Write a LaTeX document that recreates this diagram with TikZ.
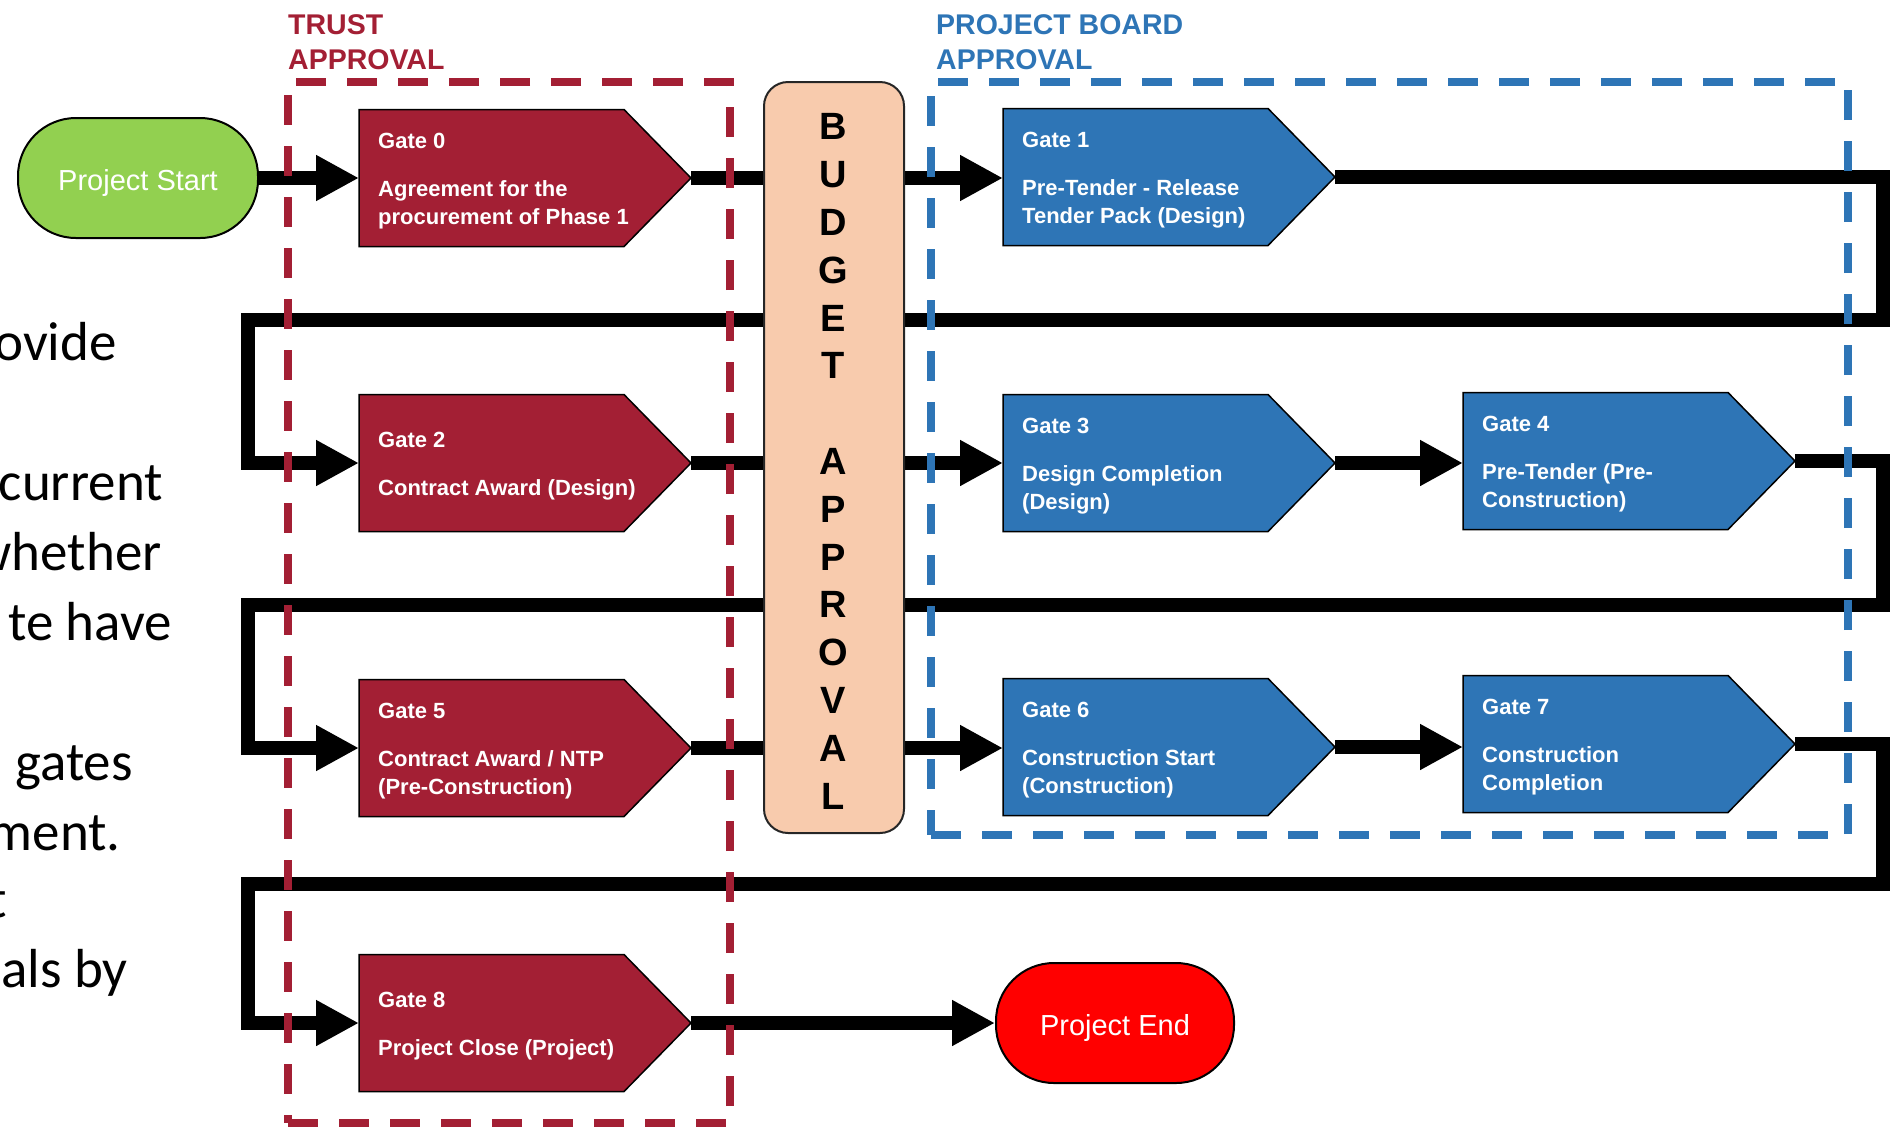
\documentclass[tikz,border=0pt]{standalone}
\usepackage{fontspec}
\setmainfont{Liberation Sans}
\newfontfamily\arialfont{Liberation Sans}
\newfontfamily\slidefont{Carlito}
\usetikzlibrary{arrows.meta,calc,backgrounds}
\definecolor{trustred}{HTML}{A31F34}
\definecolor{boardblue}{HTML}{2E75B6}
\definecolor{startgreen}{HTML}{92D050}
\definecolor{endred}{HTML}{FF0000}
\definecolor{budgetfill}{HTML}{F8CBAD}

% #1 name, #2 left x, #3 centre y, #4 colour, #5 label, #6 description
\newcommand\gatebox[6]{%
  \node[gatebody] (#1) at (#2+132.5,#3) {};
  \coordinate (#1tip) at ($(#1.east)+(67,0)$);
  \path[gateshape, fill=#4] (#1.north west) -- (#1.north east) -- (#1tip)
        -- (#1.south east) -- (#1.south west) -- cycle;
  \node[gatetext] (#1txt) at ($(#1.west)+(19,3.5)$) {#5\\[20pt]#6};
}

\begin{document}
\begin{tikzpicture}[x=1pt,y=-1pt,
  gatebody/.style={rectangle, minimum width=265pt, minimum height=137pt, inner sep=0pt, outer sep=0pt},
  gateshape/.style={draw=black, line width=1.5pt, line join=miter},
  gatetext/.style={anchor=west, align=left, text=white, inner sep=0pt,
    font=\arialfont\bfseries\fontsize{22pt}{28pt}\selectfont},
  terminal/.style={rectangle, rounded corners=58pt, minimum width=240pt, minimum height=120pt,
    draw=black, line width=2pt, text=white, inner sep=0pt, text height=24pt, text depth=0pt,
    font=\arialfont\fontsize{29pt}{34pt}\selectfont},
  conn/.style={line width=14pt, line join=miter, -{Triangle[length=43pt,width=43pt]}},
  groupbox/.style={rectangle, draw, line width=7.5pt, dash pattern=on 30pt off 21pt, inner sep=0pt},
  grouplabel/.style={anchor=west, align=left, inner sep=0pt,
    font=\arialfont\bfseries\fontsize{28.5pt}{35pt}\selectfont},
  budgetbox/.style={rectangle, rounded corners=24pt, fill=budgetfill, draw=black!85, line width=2pt,
    minimum width=140pt, minimum height=751pt, inner sep=0pt},
  budgettext/.style={align=center, inner sep=0pt,
    font=\arialfont\bfseries\fontsize{38pt}{47.8pt}\selectfont},
  slidetext/.style={anchor=base east, inner sep=0pt,
    font=\slidefont\fontsize{55pt}{66pt}\selectfont}
]
\useasboundingbox (0,0) rectangle (1893,1128);

% cropped slide text on the left
\node[slidetext] (s1) at (117,360) {ovide};
\node[slidetext] (s2) at (163,500) {current};
\node[slidetext] (s3) at (162,570) {whether};
\node[slidetext] (s4) at (172,640) {te have};
\node[slidetext] (s5) at (133,780) {gates};
\node[slidetext] (s6) at (121,850) {ment.};
\node[slidetext] (s7) at (7,917) {t};
\node[slidetext] (s8) at (128,987) {als by};

% gates
\gatebox{g0}{359}{178}{trustred}{Gate 0}{Agreement for the\\procurement of Phase 1}
\gatebox{g1}{1003}{177}{boardblue}{Gate 1}{Pre-Tender - Release\\Tender Pack (Design)}
\gatebox{g2}{359}{463}{trustred}{Gate 2}{Contract Award (Design)}
\gatebox{g3}{1003}{463}{boardblue}{Gate 3}{Design Completion\\(Design)}
\gatebox{g4}{1463}{461}{boardblue}{Gate 4}{Pre-Tender (Pre-\\Construction)}
\gatebox{g5}{359}{748}{trustred}{Gate 5}{Contract Award / NTP\\(Pre-Construction)}
\gatebox{g6}{1003}{747}{boardblue}{Gate 6}{Construction Start\\(Construction)}
\gatebox{g7}{1463}{744}{boardblue}{Gate 7}{Construction\\Completion}
\gatebox{g8}{359}{1023}{trustred}{Gate 8}{Project Close (Project)}

% terminals
\node[terminal, fill=startgreen] (pstart) at (138,178) {Project Start};
\node[terminal, fill=endred, minimum width=238pt] (pend) at (1115,1023) {Project End};

% budget approval column
\node[budgetbox] (budget) at (834,457.5) {};
\node[budgettext] (budgetlabel) at (833,461.5) {B\\U\\D\\G\\E\\T\\[47.8pt]A\\P\\P\\R\\O\\V\\A\\L};

% approval groups
\node[groupbox, draw=trustred, minimum width=442pt, minimum height=1041pt] (trustbox) at (509,602.5) {};
\node[groupbox, draw=boardblue, minimum width=917pt, minimum height=753pt] (boardbox) at (1389.5,458.5) {};
\node[grouplabel, text=trustred] (trustlabel) at (288,42.5) {TRUST\\APPROVAL};
\node[grouplabel, text=boardblue] (boardlabel) at (936,42.5) {PROJECT BOARD\\APPROVAL};

% routing helpers
\coordinate (rx) at (1883,0);
\coordinate (lx) at (248,0);
\coordinate (ret1) at (0,320);
\coordinate (ret2) at (0,605);
\coordinate (ret3) at (0,884);

% connectors (behind the boxes)
\begin{scope}[on background layer]
  \draw[conn] (pstart) -- (pstart -| g0.west);
  \draw[conn] (g0tip) -- (g0tip -| g1.west);
  \draw[conn] (g1tip) -| (rx |- ret1) -- (lx |- ret1) |- (g2.west);
  \draw[conn] (g2tip) -- (g2tip -| g3.west);
  \draw[conn] (g3tip) -- (g3tip -| g4.west);
  \draw[conn] (g4tip) -| (rx |- ret2) -- (lx |- ret2) |- (g5.west);
  \draw[conn] (g5tip) -- (g5tip -| g6.west);
  \draw[conn] (g6tip) -- (g6tip -| g7.west);
  \draw[conn] (g7tip) -| (rx |- ret3) -- (lx |- ret3) |- (g8.west);
  \draw[conn] (g8tip) -- (pend);
\end{scope}
\end{tikzpicture}
\end{document}
